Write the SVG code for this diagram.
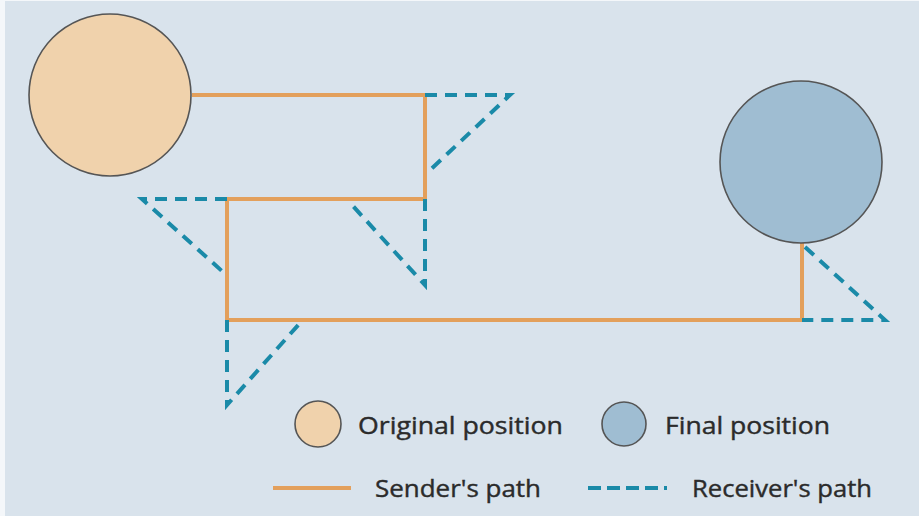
<svg xmlns="http://www.w3.org/2000/svg" width="919" height="516" viewBox="0 0 919 516">
<style>
.sender{fill:none;stroke:#e3a05c;stroke-width:4;stroke-linejoin:miter}
.recv{fill:none;stroke:#1a8aa8;stroke-width:4;stroke-dasharray:12 8;stroke-linejoin:miter;stroke-miterlimit:20}
.orig{fill:#f0d2ac;stroke:#555;stroke-width:1.6}
.final{fill:#9fbdd2;stroke:#555;stroke-width:1.6}
.lbl{font-family:"Open Sans","Liberation Sans",sans-serif;font-size:23px;fill:#2b2b2b;stroke:#2b2b2b;stroke-width:0.4}
</style>
<rect x="0" y="0" width="919" height="516" fill="#f4f7fa"/>
<rect x="5" y="1" width="914" height="515" fill="#d9e3ec"/>
<g id="connectors">
<path class="sender" d="M192,95 H425 V199 H227 V320 H802 V243"/>
<path class="recv" d="M425,95 H510 L428,172"/>
<path class="recv" d="M425,199 V285 L352,205"/>
<path class="recv" d="M227,199 H142 L223,272"/>
<path class="recv" d="M227,320 V405 L300,323"/>
<path class="recv" d="M805,247 L885,320 H802"/>
</g>
<g id="original"><circle class="orig" cx="110" cy="95" r="81"/></g>
<g id="final"><circle class="final" cx="801" cy="162" r="81"/></g>
<g id="legend">
<circle class="orig" cx="318" cy="424" r="23"/>
<text class="lbl" x="358" y="434" textLength="205" lengthAdjust="spacingAndGlyphs">Original position</text>
<circle class="final" cx="624" cy="424" r="22"/>
<text class="lbl" x="665" y="434" textLength="165" lengthAdjust="spacingAndGlyphs">Final position</text>
<line class="sender" x1="273" y1="488" x2="351" y2="488"/>
<text class="lbl" x="375" y="497" textLength="166" lengthAdjust="spacingAndGlyphs">Sender's path</text>
<line x1="588" y1="488" x2="667" y2="488" stroke="#1a8aa8" stroke-width="4" stroke-dasharray="13 6"/>
<text class="lbl" x="692" y="497" textLength="180" lengthAdjust="spacingAndGlyphs">Receiver's path</text>
</g>
</svg>
